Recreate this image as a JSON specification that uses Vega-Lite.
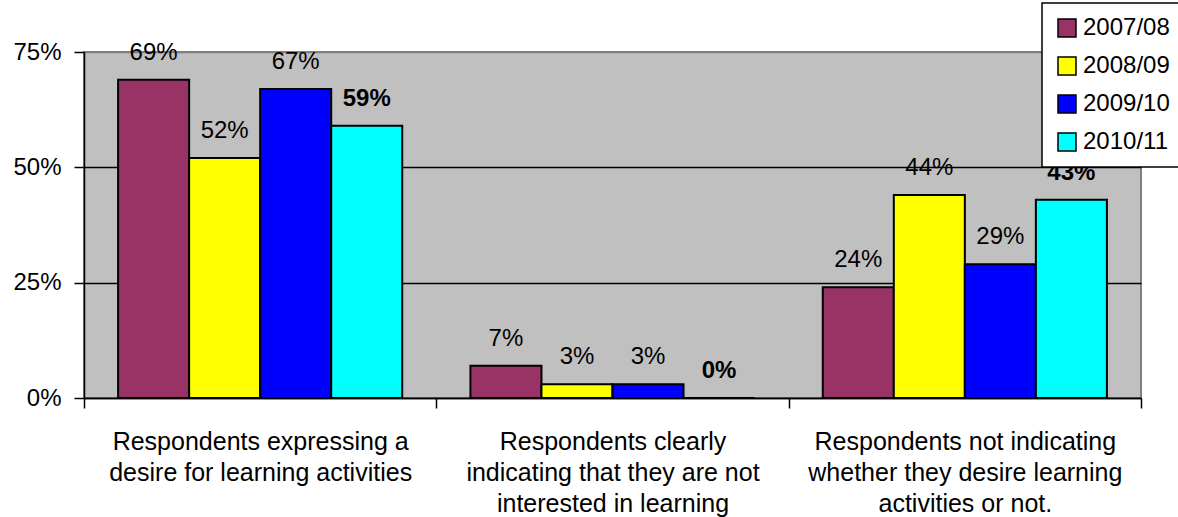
{
  "$schema": "https://vega.github.io/schema/vega-lite/v6.json",
  "autosize": "none",
  "width": 1057,
  "height": 346,
  "padding": {"left": 84, "top": 52, "right": 37, "bottom": 119},
  "background": "white",
  "config": {
    "font": "Liberation Sans",
    "view": {"fill": "#C0C0C0", "stroke": "#808080", "strokeWidth": 2}
  },
  "data": {
    "values": [
      {"cat": "Respondents expressing a|desire for learning activities", "year": "2007/08", "value": 0.69},
      {"cat": "Respondents expressing a|desire for learning activities", "year": "2008/09", "value": 0.52},
      {"cat": "Respondents expressing a|desire for learning activities", "year": "2009/10", "value": 0.67},
      {"cat": "Respondents expressing a|desire for learning activities", "year": "2010/11", "value": 0.59},
      {"cat": "Respondents clearly|indicating that they are not|interested in learning", "year": "2007/08", "value": 0.07},
      {"cat": "Respondents clearly|indicating that they are not|interested in learning", "year": "2008/09", "value": 0.03},
      {"cat": "Respondents clearly|indicating that they are not|interested in learning", "year": "2009/10", "value": 0.03},
      {"cat": "Respondents clearly|indicating that they are not|interested in learning", "year": "2010/11", "value": 0.0},
      {"cat": "Respondents not indicating|whether they desire learning|activities or not.", "year": "2007/08", "value": 0.24},
      {"cat": "Respondents not indicating|whether they desire learning|activities or not.", "year": "2008/09", "value": 0.44},
      {"cat": "Respondents not indicating|whether they desire learning|activities or not.", "year": "2009/10", "value": 0.29},
      {"cat": "Respondents not indicating|whether they desire learning|activities or not.", "year": "2010/11", "value": 0.43}
    ]
  },
  "encoding": {
    "x": {
      "field": "cat", "type": "nominal", "sort": null, "title": null,
      "scale": {"paddingInner": 0, "paddingOuter": 0},
      "axis": {
        "labelExpr": "split(datum.label, '|')",
        "labelAngle": 0, "labelFontSize": 25, "labelColor": "black",
        "labelLineHeight": 31, "labelPadding": 21, "labelLimit": 400,
        "tickBand": "extent", "tickSize": 10, "tickColor": "black", "tickWidth": 1.5,
        "domainColor": "black", "domainWidth": 1.5
      }
    },
    "xOffset": {"field": "year", "type": "nominal", "scale": {"paddingInner": 0, "paddingOuter": 0.48}},
    "y": {
      "field": "value", "type": "quantitative", "title": null,
      "scale": {"domain": [0, 0.75], "nice": false},
      "axis": {
        "values": [0, 0.25, 0.5, 0.75], "format": ".0%",
        "labelFontSize": 24, "labelColor": "black", "labelPadding": 13,
        "tickSize": 10, "tickColor": "black", "tickWidth": 1.5,
        "domainColor": "black", "domainWidth": 1.5,
        "grid": true, "gridColor": {"condition": {"test": "datum.value >= 0.75", "value": "#808080"}, "value": "black"}, "gridWidth": 1.5
      }
    }
  },
  "layer": [
    {
      "mark": {"type": "bar", "stroke": "black", "strokeWidth": 2},
      "encoding": {
        "color": {
          "field": "year", "type": "nominal", "title": null,
          "scale": {"domain": ["2007/08", "2008/09", "2009/10", "2010/11"], "range": ["#993366", "#FFFF00", "#0000FF", "#00FFFF"]},
          "legend": {
            "orient": "none", "legendX": 958, "legendY": -49,
            "symbolType": "square", "symbolSize": 324, "symbolStrokeColor": "black", "symbolStrokeWidth": 1.5,
            "symbolOpacity": 1,
            "labelFontSize": 24, "labelColor": "black", "labelOffset": 4,
            "rowPadding": 14, "padding": 13,
            "fillColor": "white", "strokeColor": "black",
            "encode": {"legend": {"update": {"strokeWidth": {"value": 1.5}}}}
          }
        }
      }
    },
    {
      "transform": [{"filter": "datum.year !== '2010/11'"}],
      "mark": {"type": "text", "baseline": "alphabetic", "dy": -20, "fontSize": 24, "color": "black"},
      "encoding": {
        "text": {"field": "value", "type": "quantitative", "format": ".0%"}
      }
    },
    {
      "transform": [{"filter": "datum.year === '2010/11'"}],
      "mark": {"type": "text", "baseline": "alphabetic", "dy": -20, "fontSize": 24, "fontWeight": "bold", "color": "black"},
      "encoding": {
        "text": {"field": "value", "type": "quantitative", "format": ".0%"}
      }
    }
  ]
}
